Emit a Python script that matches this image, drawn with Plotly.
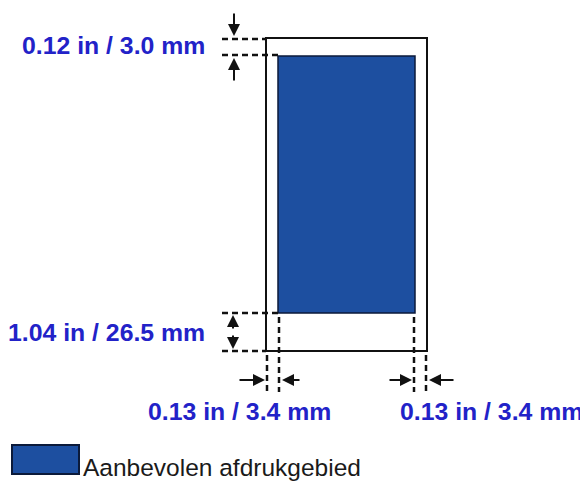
import plotly.graph_objects as go

# diagram text
margin_labels = ["0.12 in / 3.0 mm", "1.04 in / 26.5 mm", "0.13 in / 3.4 mm", "0.13 in / 3.4 mm"]
legend_label = "Aanbevolen afdrukgebied"

# page and printable area, in picture pixels (x, y from top-left)
paper = dict(x0=266, x1=427, y0=38, y1=351)
area = dict(x0=278, x1=415, y0=56, y1=313)

BLUE = "#1d4fa0"
LABEL = "#2222c8"
PAGE_OFFSET = 8  # default body margin of the html page

fig = go.Figure()

shapes = [
    dict(type="rect", **paper, line=dict(color="#111", width=2), fillcolor="white"),
    dict(type="rect", **area, line=dict(color="#0b1a3a", width=1.5), fillcolor=BLUE),
    # legend swatch
    dict(type="rect", x0=12, x1=79, y0=445, y1=474, line=dict(color="#0b1a3a", width=2), fillcolor=BLUE),
]


def dash(x0, y0, x1, y1):
    return dict(type="line", x0=x0, y0=y0, x1=x1, y1=y1,
                line=dict(color="#111", width=2.5, dash="6px,4px"))


# extension lines
shapes += [
    dash(222, paper["y0"] + 1, paper["x0"], paper["y0"] + 1),
    dash(222, area["y0"] - 1, area["x0"], area["y0"] - 1),
    dash(222, area["y1"], area["x0"], area["y1"]),
    dash(222, paper["y1"], paper["x0"], paper["y1"]),
    dash(paper["x0"] + 1, paper["y1"] + 4, paper["x0"] + 1, 392),
    dash(area["x0"] + 1, area["y1"] + 4, area["x0"] + 1, 392),
    dash(area["x1"] - 1, area["y1"] + 4, area["x1"] - 1, 392),
    dash(paper["x1"] - 1, paper["y1"] + 4, paper["x1"] - 1, 392),
]

annotations = []


def arrow(x_tail, y_tail, x_tip, y_tip, head=2):
    annotations.append(dict(
        x=x_tip, y=y_tip, ax=x_tail, ay=y_tail, xref="x", yref="y",
        axref="x", ayref="y", text="", showarrow=True,
        arrowhead=head, arrowsize=1.2, arrowwidth=2, arrowcolor="#111",
    ))


arrow(234, 12, 234, 36)
arrow(234, 82, 234, 58)
arrow(233, 330, 233, 315)
arrow(233, 334, 233, 349)
arrow(238, 380, 265, 380)
arrow(301, 380, 282, 380)
arrow(388, 380, 412, 380)
arrow(455, 380, 429, 380)

label_font = dict(family="Liberation Sans, Arial", size=24.8, color=LABEL)
label_pos = [(207, 45, "right"), (207, 332, "right"), (239, 411, "center"), (491, 411, "center")]
for text, (x, y, anchor) in zip(margin_labels, label_pos):
    annotations.append(dict(x=x, y=y, xref="x", yref="y", text=f"<b>{text}</b>",
                            showarrow=False, xanchor=anchor, yanchor="middle", font=label_font))

annotations.append(dict(x=81, y=467, xref="x", yref="y", text=legend_label, showarrow=False,
                        xanchor="left", yanchor="middle",
                        font=dict(family="Liberation Sans, Arial", size=24.5, color="#1a1a1a")))

fig.update_layout(
    width=588 - PAGE_OFFSET, height=483 - PAGE_OFFSET,
    margin=dict(l=0, r=0, t=0, b=0),
    paper_bgcolor="white", plot_bgcolor="white",
    xaxis=dict(range=[PAGE_OFFSET, 588], visible=False, fixedrange=True),
    yaxis=dict(range=[483, PAGE_OFFSET], visible=False, fixedrange=True),
    shapes=shapes, annotations=annotations, showlegend=False,
)

fig.write_html("out.html", config={"displayModeBar": False})
